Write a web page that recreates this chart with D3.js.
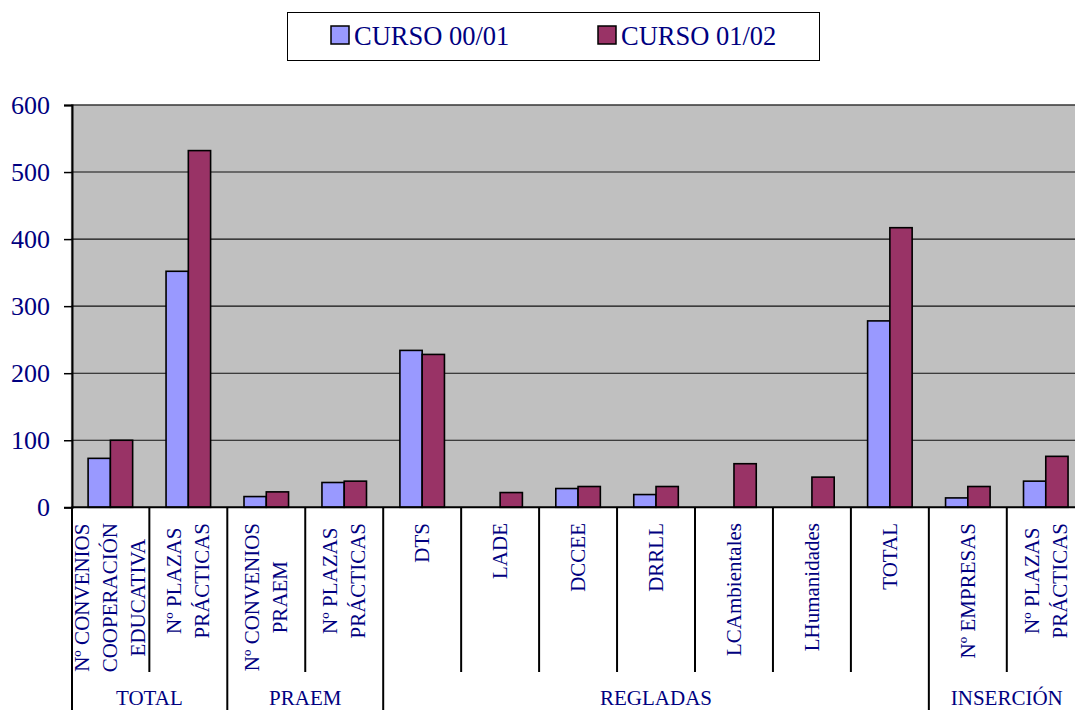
<!DOCTYPE html>
<html><head><meta charset="utf-8">
<script src="https://cdn.jsdelivr.net/npm/d3@7"></script>
<style>html,body{margin:0;padding:0;background:#fff;overflow:hidden}
svg text{font-family:"Liberation Serif","Times New Roman",serif;}</style>
</head><body>
<svg id="chart" width="1075" height="710"></svg>
<script>
const categories = [
  ["Nº CONVENIOS","COOPERACIÓN","EDUCATIVA"],
  ["Nº PLAZAS","PRÁCTICAS"],
  ["Nº CONVENIOS","PRAEM"],
  ["Nº PLAZAS","PRÁCTICAS"],
  ["DTS"],["LADE"],["DCCEE"],["DRRLL"],["LCAmbientales"],["LHumanidades"],["TOTAL"],
  ["Nº EMPRESAS"],
  ["Nº PLAZAS","PRÁCTICAS"]
];
const groups = [
  {name:"TOTAL", start:0, end:2},
  {name:"PRAEM", start:2, end:4},
  {name:"REGLADAS", start:4, end:11},
  {name:"INSERCIÓN", start:11, end:13}
];
const seriesNames = ["CURSO 00/01","CURSO 01/02"];
const curso0001 = [73, 352, 16, 37, 234, 0, 28, 19, 0, 0, 278, 14, 39];
const curso0102 = [100, 532, 23, 39, 228, 22, 31, 31, 65, 45, 417, 31, 76];
const yTicks = [0,100,200,300,400,500,600];
const colors = ["#9999FF","#993366"];

const svg = d3.select("#chart");
const font = '"Liberation Serif","Times New Roman",serif';
const navy = "#000080";

const pLeft = 71.4, pTop = 105, pBottom = 507.3, step = 77.95;
const pRight = pLeft + step*categories.length;
const idx = categories.map((d,i)=>i);
const x0 = d3.scaleBand().domain(idx).range([pLeft,pRight]).padding(0);
const bw = x0.bandwidth()/3.5;
const x1 = d3.scaleBand().domain(seriesNames).range([bw*0.75, x0.bandwidth()-bw*0.75]).padding(0);
const y = d3.scaleLinear().domain([0,600]).range([pBottom, pTop]);

// plot area
svg.append("rect").attr("x",pLeft).attr("y",pTop).attr("width",pRight-pLeft).attr("height",pBottom-pTop)
  .attr("fill","#C0C0C0").attr("stroke","#808080").attr("stroke-width",1);

// gridlines
svg.append("g").selectAll("line").data(yTicks.filter(t=>t>0)).join("line")
  .attr("x1",pLeft).attr("x2",pRight).attr("y1",d=>y(d)).attr("y2",d=>y(d))
  .attr("stroke","#111").attr("stroke-width",1.1);

// bars
const data = idx.map(i=>({i, vals:[curso0001[i], curso0102[i]]}));
const cg = svg.append("g").selectAll("g").data(data).join("g")
  .attr("transform",d=>`translate(${x0(d.i)},0)`);
cg.selectAll("rect").data(d=>d.vals.map((v,k)=>({k,v})).filter(e=>e.v>0)).join("rect")
  .attr("x",e=>x1(seriesNames[e.k])).attr("width",x1.bandwidth())
  .attr("y",e=>y(e.v)).attr("height",e=>y(0)-y(e.v))
  .attr("fill",e=>colors[e.k]).attr("stroke","#000").attr("stroke-width",1.6);

// y axis
const yAxis = d3.axisLeft(y).tickValues(yTicks).tickSize(8).tickPadding(14).tickFormat(d3.format("d"));
const ya = svg.append("g").attr("transform",`translate(${pLeft+0.6},0)`).call(yAxis)
  .attr("font-family",font);
ya.select(".domain").attr("stroke","#000").attr("stroke-width",2);
ya.selectAll(".tick line").attr("stroke","#000").attr("stroke-width",1.5);
ya.selectAll(".tick text").style("font-family",font).attr("font-size",26).attr("fill",navy);

// category/group divider lines
const groupBounds = new Set(groups.map(g=>g.start).concat(groups.map(g=>g.end)));
for (let b=0; b<=categories.length; b++){
  const xx = b<categories.length ? x0(b) : pRight;
  const full = groupBounds.has(b);
  svg.append("line").attr("x1",b===0?pLeft+0.6:xx).attr("x2",b===0?pLeft+0.6:xx)
    .attr("y1",pBottom).attr("y2",full?712:672)
    .attr("stroke","#000").attr("stroke-width",2);
}
// x baseline
svg.append("line").attr("x1",pLeft).attr("x2",pRight).attr("y1",pBottom).attr("y2",pBottom)
  .attr("stroke","#000").attr("stroke-width",2);

// category labels (rotated)
const L = 28, cap = 14, labTop = 523;
const lg = svg.append("g");
categories.forEach((lines,i)=>{
  const cx = x0(i) + x0.bandwidth()/2;
  const g = lg.append("g");
  const texts = lines.map((t,j)=> g.append("text").text(t)
      .style("font-family",font).attr("font-size",21).attr("fill",navy)
      .attr("text-anchor","middle")
      .attr("x",0).attr("y", -(lines.length-1)*L/2 + j*L + cap/2));
  const maxLen = d3.max(texts, t=>t.node().getComputedTextLength());
  g.attr("transform",`translate(${cx},${labTop+maxLen/2}) rotate(-90)`);
});

// group labels
svg.append("g").selectAll("text").data(groups).join("text")
  .attr("x",g=>(x0(g.start)+(g.end<categories.length?x0(g.end):pRight))/2)
  .attr("y",705).attr("text-anchor","middle")
  .style("font-family",font).attr("font-size",21).attr("fill",navy)
  .text(g=>g.name);

// legend
const leg = svg.append("g");
leg.append("rect").attr("x",287.5).attr("y",12.5).attr("width",532).attr("height",48)
  .attr("fill","#fff").attr("stroke","#000").attr("stroke-width",1);
const legX = [331, 598];
seriesNames.forEach((s,k)=>{
  leg.append("rect").attr("x",legX[k]).attr("y",26).attr("width",18).attr("height",18)
    .attr("fill",colors[k]).attr("stroke","#000").attr("stroke-width",1.5);
  leg.append("text").attr("x",legX[k]+23).attr("y",45)
    .style("font-family",font).attr("font-size",26.5).attr("fill",navy).text(s);
});
</script>
</body></html>
